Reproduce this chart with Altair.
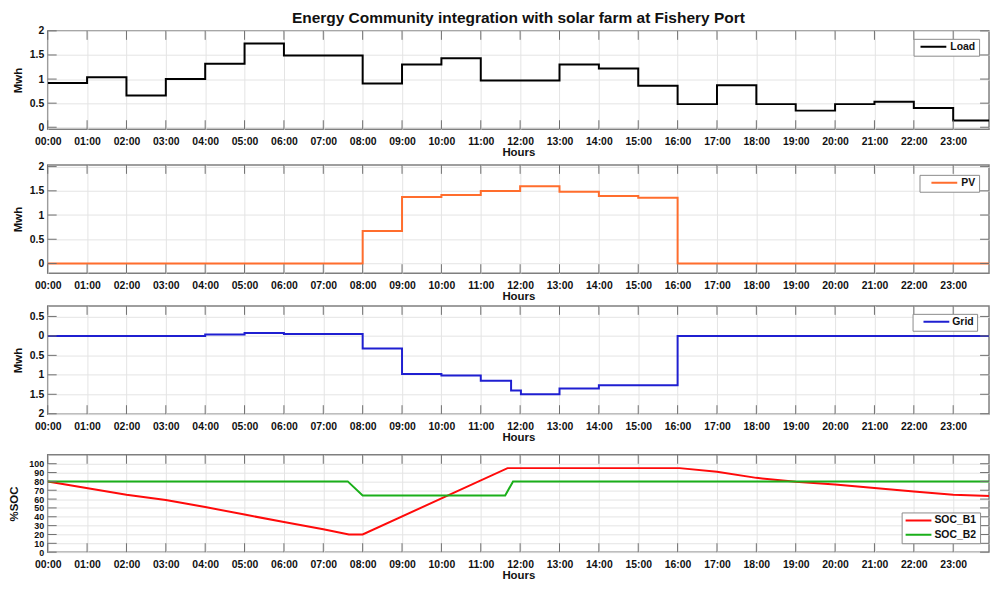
import altair as alt
import pandas as pd

FONT = "Liberation Sans"
TITLE = "Energy Community integration with solar farm at Fishery Port"

# ---------------- data ----------------
hour_ticks = [0, 1, 2, 3, 4, 5, 6, 7, 8, 9, 10, 11, 12, 13, 14, 15, 16, 17, 18, 19, 20, 21, 22, 23]

load_t = [0, 1, 2, 3, 4, 5, 6, 7, 8, 9, 10, 11, 12, 13, 14, 15, 16, 17, 18, 19, 20, 21, 22, 23, 24]
load_v = [0.92, 1.04, 0.66, 1.00, 1.32, 1.74, 1.49, 1.49, 0.91, 1.30, 1.43, 0.97,
          0.97, 1.30, 1.22, 0.86, 0.48, 0.87, 0.48, 0.345, 0.48, 0.53, 0.40, 0.14, 0.14]

pv_t = [0, 1, 2, 3, 4, 5, 6, 7, 8, 9, 10, 11, 12, 13, 14, 15, 16, 17, 18, 19, 20, 21, 22, 23, 24]
pv_v = [0, 0, 0, 0, 0, 0, 0, 0, 0.67, 1.375, 1.415, 1.495,
        1.595, 1.48, 1.395, 1.355, 0, 0, 0, 0, 0, 0, 0, 0, 0]

grid_t = [0, 1, 2, 4, 5, 6, 8, 9, 10, 11, 11.77, 12.02, 13, 14, 16, 24]
grid_v = [0.0, 0.005, 0.0, -0.033, -0.075, -0.05, 0.325, 0.98, 1.02, 1.15, 1.4, 1.5, 1.35, 1.27, 0.0, 0.0]

b1_t = [0, 2, 3, 4, 5, 6, 7, 7.65, 8, 11.68, 16.05, 17, 18, 19, 20, 21, 22, 23, 24]
b1_v = [80, 65, 59, 51, 42.5, 34, 26, 20, 20, 95, 95, 91, 84, 79.5, 76.5, 72.5, 68.5, 65, 63.5]

b2_t = [0, 7.62, 8, 11.62, 11.82, 24]
b2_v = [80, 80, 64, 64, 80, 80]

mwh_ticks = [0, 0.5, 1, 1.5, 2]
grid_ticks = [-0.5, 0, 0.5, 1, 1.5, 2]
soc_ticks = [0, 10, 20, 30, 40, 50, 60, 70, 80, 90, 100]

# ---------------- styling ----------------
W = 948
X_MAX = 23.91
TICK_COLOR = "#6f6f6f"
TICK_LEN = 9


def frame(names, ts, vs):
    rows = []
    for n, t, v in zip(names, ts, vs):
        for a, b in zip(t, v):
            rows.append({"t": a, "v": b, "s": n})
    return pd.DataFrame(rows)


def panel(df, names, colors, interp, ydom, yticks, H, ytitle, lx, ly, sym_off, lab_off,
          top_space, reverse=False, ylabel_expr="'' + datum.value",
          ylabel_size=10.5, ytitle_pad=5.5, title=None):
    xs = alt.Scale(domain=[0, X_MAX], nice=False, zero=False)
    ys = alt.Scale(domain=ydom, nice=False, zero=False, reverse=reverse)
    xaxis = alt.Axis(values=hour_ticks, title="Hours", grid=True, ticks=False, tickSize=0,
                     domain=False, labelPadding=7.5, titlePadding=0, labelFlush=False,
                     labelOverlap=False,
                     labelExpr="(datum.value < 10 ? '0' : '') + datum.value + ':00'")
    yaxis = alt.Axis(values=yticks, title=ytitle, grid=True, ticks=False, tickSize=0,
                     domain=False, labelPadding=4, titlePadding=ytitle_pad, labelFlush=False,
                     labelOverlap=False, labelExpr=ylabel_expr, labelFontSize=ylabel_size)

    legend = alt.Legend(title=None, orient="none", legendX=lx, legendY=ly, fillColor="white",
                        strokeColor="#8a8a8a", padding=3, symbolType="M-2.6,0H2.6",
                        symbolSize=100, symbolOffset=sym_off, clipHeight=10,
                        symbolStrokeWidth=2, labelFont=FONT, labelFontSize=10.5,
                        labelFontWeight="bold", labelColor="#111111", labelOffset=lab_off,
                        rowPadding=3.5, cornerRadius=0)

    line = alt.Chart(df).mark_line(interpolate=interp, strokeWidth=2, clip=True).encode(
        x=alt.X("t:Q", scale=xs, axis=xaxis),
        y=alt.Y("v:Q", scale=ys, axis=yaxis),
        color=alt.Color("s:N", scale=alt.Scale(domain=names, range=colors), legend=legend,
                        sort=names),
    )

    xt = pd.DataFrame({"t": hour_ticks})
    yt = pd.DataFrame({"v": yticks})
    top_t = alt.Chart(xt).mark_rule(color=TICK_COLOR, strokeWidth=1).encode(
        x=alt.X("t:Q", scale=xs, axis=xaxis), y=alt.value(0), y2=alt.value(TICK_LEN))
    bot_t = alt.Chart(xt).mark_rule(color=TICK_COLOR, strokeWidth=1).encode(
        x=alt.X("t:Q", scale=xs, axis=xaxis), y=alt.value(H - TICK_LEN), y2=alt.value(H))
    left_t = alt.Chart(yt).mark_rule(color=TICK_COLOR, strokeWidth=1).encode(
        y=alt.Y("v:Q", scale=ys, axis=yaxis), x=alt.value(0), x2=alt.value(TICK_LEN))
    right_t = alt.Chart(yt).mark_rule(color=TICK_COLOR, strokeWidth=1).encode(
        y=alt.Y("v:Q", scale=ys, axis=yaxis), x=alt.value(W - TICK_LEN), x2=alt.value(W))
    layers = [line, top_t, bot_t, left_t, right_t]
    if top_space > 0:
        spacer = alt.Chart(pd.DataFrame({"t": [0]})).mark_rule(opacity=0).encode(
            x=alt.value(1), y=alt.value(-top_space), y2=alt.value(0))
        layers.append(spacer)

    props = dict(width=W, height=H)
    if title is not None:
        props["title"] = title
    return alt.layer(*layers).properties(**props)


main_title = alt.TitleParams(TITLE, font=FONT, fontSize=15.6, fontWeight="bold",
                             color="#111111", anchor="middle", frame="group", offset=-1.3)

p1 = panel(frame(["Load"], [load_t], [load_v]), ["Load"], ["#000000"], "step-after",
           [-0.04, 2.0], mwh_ticks, 99, "Mwh", 872, 8, 11, 11, 6, title=main_title)
p2 = panel(frame(["PV"], [pv_t], [pv_v]), ["PV"], ["#ff6d2d"], "step-after",
           [-0.2, 2.035], mwh_ticks, 109, "Mwh", 878, 10, 16, 11, 0)
p3 = panel(frame(["Grid"], [grid_t], [grid_v]), ["Grid"], ["#1f1fd1"], "step-after",
           [-0.77, 2.01], grid_ticks, 109, "Mwh", 871, 8, 15, 10, 0, reverse=True,
           ylabel_expr="'' + abs(datum.value)")
p4 = panel(frame(["SOC_B1", "SOC_B2"], [b1_t, b2_t], [b1_v, b2_v]), ["SOC_B1", "SOC_B2"],
           ["#ff0a0a", "#1aaf1a"], "linear", [0, 110], soc_ticks, 98, "%SOC", 860, 58, 8, 10,
           9, ylabel_size=9, ytitle_pad=9)

chart = alt.vconcat(
    p1, p2, p3, p4, spacing=0,
).resolve_scale(
    x="independent", y="independent", color="independent"
).resolve_legend(color="independent").configure_view(
    stroke="#7f7f7f", strokeWidth=1.5
).configure_axis(
    labelFont=FONT, labelFontSize=10.5, labelFontWeight="bold", labelColor="#111111",
    titleFont=FONT, titleFontSize=11.5, titleFontWeight="bold", titleColor="#111111",
    gridColor="#e4e4e4", gridWidth=1
).properties(
    padding={"left": 0, "top": -1, "right": 0, "bottom": -4},
    background="white",
)

chart.save("out.html", embed_options={"renderer": "svg", "actions": False})
